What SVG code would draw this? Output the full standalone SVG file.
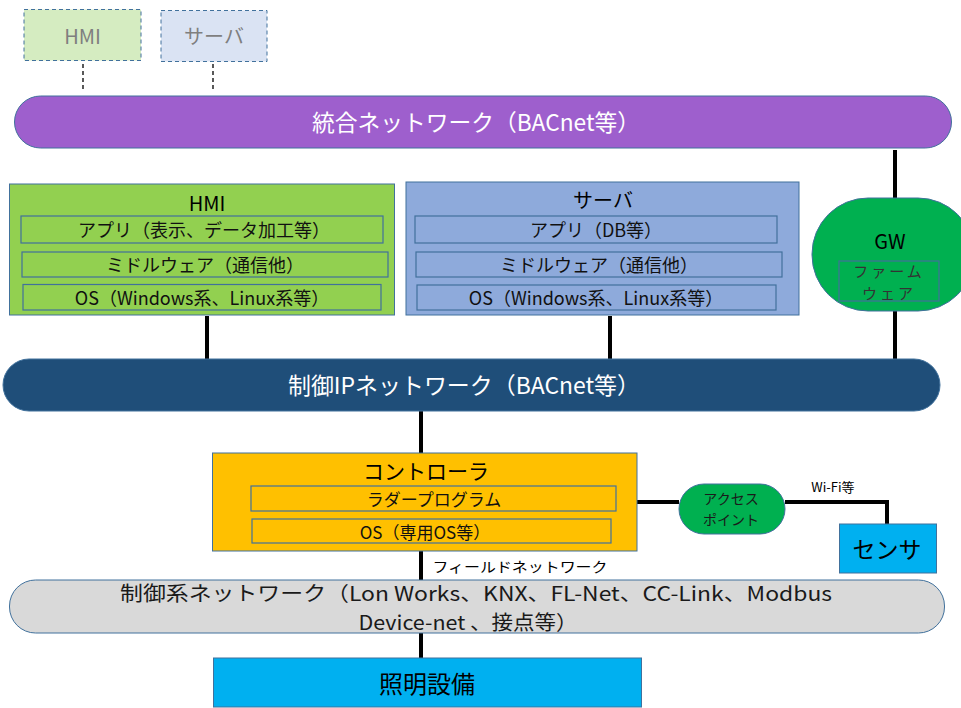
<svg xmlns="http://www.w3.org/2000/svg" width="961" height="708" viewBox="0 0 961 708">
<style>
text{font-family:"Noto Sans CJK JP","Open Sans","Liberation Sans",sans-serif;text-anchor:middle;dominant-baseline:central}
.box{stroke:#41719c;stroke-width:1}
.inner{fill:none;stroke:#41719c;stroke-width:1.2}
.dash{stroke:#41719c;stroke-width:1;stroke-dasharray:4 3}
.wire{stroke:#000;stroke-width:4;fill:none}
.dwire{stroke:#000;stroke-width:1.3;stroke-dasharray:4 3}
.t18{font-size:18px;fill:#111}
.w{fill:#fff}
</style>
<rect width="961" height="708" fill="#fff"/>
<g id="connectors">
<line class="dwire" x1="83" y1="64" x2="83" y2="91"/>
<line class="dwire" x1="213" y1="64" x2="213" y2="91"/>
<line class="wire" x1="895" y1="150" x2="895" y2="199"/>
<line class="wire" x1="207" y1="316" x2="207" y2="359"/>
<line class="wire" x1="610" y1="316" x2="610" y2="359"/>
<line class="wire" x1="895" y1="311" x2="895" y2="359"/>
<line class="wire" x1="421" y1="411" x2="421" y2="453"/>
<line class="wire" x1="421" y1="551" x2="421" y2="580"/>
<line class="wire" x1="421" y1="633" x2="421" y2="658"/>
<line class="wire" x1="637" y1="502" x2="679" y2="502"/>
<polyline class="wire" points="785,502 887,502 887,524"/>
</g>
<g id="hmi-top">
<rect class="dash" x="24" y="9.5" width="117" height="51" fill="#d5ecc1"/>
<text x="82.5" y="35" style="font-size:20px;fill:#7f7f7f">HMI</text>
</g>
<g id="server-top">
<rect class="dash" x="161" y="10.5" width="106" height="51" fill="#dae3f3"/>
<text x="214" y="35" style="font-size:20px;fill:#7f7f7f">サーバ</text>
</g>
<g id="integrated-network">
<rect class="box" x="14.5" y="96" width="937" height="52" rx="26" fill="#9e5fcd"/>
<text class="w" x="476" y="121" style="font-size:23px" textLength="328" lengthAdjust="spacingAndGlyphs">統合ネットワーク（BACnet等）</text>
</g>
<g id="hmi">
<rect class="box" x="9.5" y="184" width="385" height="131" fill="#92d050"/>
<text x="207" y="202" style="font-size:20px">HMI</text>
<rect class="inner" x="21" y="216" width="362" height="27"/>
<text class="t18" x="204" y="229">アプリ（表示、データ加工等）</text>
<rect class="inner" x="22" y="252" width="366" height="25"/>
<text class="t18" x="205" y="264">ミドルウェア（通信他）</text>
<rect class="inner" x="23" y="284.5" width="358" height="25.5"/>
<text class="t18" x="202" y="297">OS（Windows系、Linux系等）</text>
</g>
<g id="server">
<rect class="box" x="406" y="182" width="393" height="133" fill="#8eaadb"/>
<text x="603" y="199" style="font-size:20px">サーバ</text>
<rect class="inner" x="415" y="216" width="362" height="27"/>
<text class="t18" x="596" y="229">アプリ（DB等）</text>
<rect class="inner" x="416" y="252" width="366" height="25"/>
<text class="t18" x="599" y="264">ミドルウェア（通信他）</text>
<rect class="inner" x="417" y="285" width="359" height="25"/>
<text class="t18" x="596" y="297">OS（Windows系、Linux系等）</text>
</g>
<g id="gw">
<rect class="box" x="812" y="198" width="162" height="113" rx="56" fill="#00b050"/>
<text x="890" y="240" style="font-size:20px">GW</text>
<rect class="inner" x="839" y="261" width="100" height="40"/>
<text x="889" y="270" style="font-size:15px;fill:#333;letter-spacing:3px">ファーム</text>
<text x="889" y="292" style="font-size:15px;fill:#333;letter-spacing:3px">ウェア</text>
</g>
<g id="control-ip-network">
<rect class="box" x="3" y="359" width="937" height="52" rx="26" fill="#1f4e79"/>
<text class="w" x="464" y="384" style="font-size:23px" textLength="352" lengthAdjust="spacingAndGlyphs">制御IPネットワーク（BACnet等）</text>
</g>
<g id="controller">
<rect class="box" x="212.5" y="453" width="424.5" height="98" fill="#ffc000"/>
<text x="426" y="470" style="font-size:21px">コントローラ</text>
<rect class="inner" x="251" y="486" width="365" height="25"/>
<text class="t18" x="434" y="498" style="font-size:17px">ラダープログラム</text>
<rect class="inner" x="252" y="519" width="359" height="24"/>
<text class="t18" x="425" y="531" style="font-size:17px">OS（専用OS等）</text>
</g>
<g id="access-point">
<rect class="box" x="679" y="484" width="106" height="50" rx="25" fill="#00b050"/>
<text x="731" y="498" style="font-size:14px;fill:#1a1a1a">アクセス</text>
<text x="731" y="519" style="font-size:14px;fill:#1a1a1a">ポイント</text>
</g>
<text x="833" y="486" style="font-size:13px">Wi-Fi等</text>
<g id="sensor">
<rect class="box" x="839.5" y="524" width="97" height="49" fill="#00b0f0"/>
<text x="887" y="548" style="font-size:23px">センサ</text>
</g>
<text x="520" y="566" style="font-size:14px" textLength="175" lengthAdjust="spacingAndGlyphs">フィールドネットワーク</text>
<g id="control-network">
<rect class="box" x="9.5" y="580" width="935" height="53" rx="26" fill="#d9d9d9"/>
<text x="476" y="592" style="font-size:20px;fill:#1a1a1a" textLength="712" lengthAdjust="spacingAndGlyphs">制御系ネットワーク（Lon Works、KNX、FL-Net、CC-Link、Modbus</text>
<text x="468" y="621" style="font-size:20px;fill:#1a1a1a" textLength="219" lengthAdjust="spacingAndGlyphs">Device-net 、接点等）</text>
</g>
<g id="lighting">
<rect class="box" x="213.5" y="658" width="428" height="49" fill="#00b0f0"/>
<text x="427" y="682" style="font-size:24px">照明設備</text>
</g>
</svg>
